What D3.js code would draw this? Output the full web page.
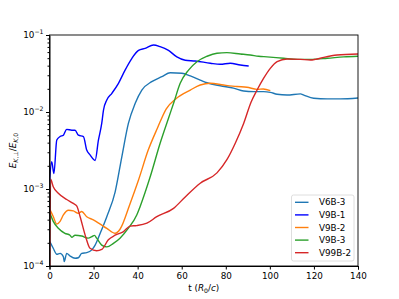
<!DOCTYPE html>
<html>
<head>
<meta charset="utf-8">
<script src="https://cdn.jsdelivr.net/npm/d3@7/dist/d3.min.js"></script>
<style>
body { margin: 0; background: #fff; }
text { font-family: "DejaVu Sans", sans-serif; }
</style>
</head>
<body>
<svg id="chart"></svg>
<script>
// series names and colours (matplotlib tab10 + pure blue)
var names = ['V6B-3', 'V9B-1', 'V9B-2', 'V9B-3', 'V99B-2'];
var colors = ['#1f77b4', '#0000ff', '#ff7f0e', '#2ca02c', '#d62728'];

var xTicks = [0, 20, 40, 60, 80, 100, 120, 140];
var yTicks = [1e-4, 1e-3, 1e-2, 1e-1];
var yTickExp = ['\u22124', '\u22123', '\u22122', '\u22121'];

// [t, value]
var v6b3 = [[0.2, 2.07e-4], [1.7, 1.7e-4], [3.3, 1.42e-4], [4.8, 1.46e-4], [6.3, 1.32e-4], [6.7, 1.14e-4],
    [7.8, 1.46e-4], [9.3, 1.35e-4], [11.6, 1.26e-4], [13.1, 1.28e-4], [14.6, 1.46e-4], [16.9, 1.49e-4],
    [19.2, 1.62e-4], [20.7, 1.87e-4], [23, 2.66e-4], [26, 4.37e-4], [29.8, 9.2e-4], [32.8, 2.6e-3],
    [35.8, 7.1e-3], [38.9, 1.3e-2], [41.9, 1.93e-2], [46.4, 2.48e-2], [51, 2.88e-2], [54.8, 3.24e-2],
    [60.1, 3.19e-2], [63.9, 2.94e-2], [68.4, 2.6e-2], [71.5, 2.4e-2], [77.5, 2.19e-2], [83.5, 2.04e-2],
    [88.1, 1.87e-2], [92.6, 1.84e-2], [97.2, 1.84e-2], [100.2, 1.8e-2], [103.3, 1.7e-2], [107.8, 1.66e-2],
    [113.9, 1.72e-2], [115.4, 1.66e-2], [119.9, 1.51e-2], [126, 1.48e-2], [132, 1.48e-2], [140, 1.52e-2]];

var v9b1 = [[0, 1.25e-3], [1, 2.26e-3], [2, 1.59e-3], [3.3, 4.33e-3], [4.8, 4.8e-3], [6.3, 5.0e-3],
    [7.8, 5.95e-3], [10.1, 5.8e-3], [11.6, 5.8e-3], [13.1, 5.0e-3], [15.4, 4.8e-3], [16.9, 3.2e-3],
    [18.4, 2.77e-3], [20.7, 2.35e-3], [22.2, 4.3e-3], [23.7, 7.1e-3], [24.5, 1.06e-2], [26, 1.43e-2],
    [28.3, 1.75e-2], [31.3, 2.36e-2], [34.3, 3.5e-2], [37.4, 4.98e-2], [40.4, 6.3e-2], [43.4, 6.7e-2],
    [47.2, 7.4e-2], [50.2, 7.05e-2], [54, 6.3e-2], [57.8, 5.2e-2], [61.6, 4.7e-2], [66.1, 4.6e-2],
    [73, 4.3e-2], [77.5, 4.17e-2], [82, 4.3e-2], [86.6, 4.07e-2], [90.4, 3.95e-2]];

var v9b2 = [[0.2, 5.4e-4], [1.7, 4.4e-4], [3.3, 3.5e-4], [4.8, 3.8e-4], [6.3, 4.6e-4], [8.6, 5.3e-4],
    [10.8, 5.2e-4], [13.1, 4.83e-4], [14.6, 5.1e-4], [16.9, 4.37e-4], [19.9, 3.97e-4], [23, 3.5e-4],
    [26, 3.08e-4], [29.8, 2.66e-4], [32, 3.0e-4], [36.6, 6.5e-4], [40.4, 1.31e-3], [44.8, 3.2e-3],
    [49, 6.2e-3], [53, 1.1e-2], [57.5, 1.5e-2], [63.9, 1.93e-2], [68.4, 2.24e-2], [73, 2.36e-2],
    [79, 2.24e-2], [85.1, 2.14e-2], [89.6, 2.1e-2], [94.2, 1.97e-2], [97, 1.99e-2], [100.2, 1.89e-2]];

var v9b3 = [[0.2, 4.83e-4], [1.7, 3.8e-4], [4, 3.1e-4], [7, 2.66e-4], [9.3, 2.51e-4], [10.1, 2.36e-4],
    [11.6, 2.51e-4], [14.6, 2.45e-4], [17.6, 2.3e-4], [19.2, 2.4e-4], [20.4, 2.5e-4], [21.4, 2.3e-4],
    [23.7, 1.87e-4], [26, 1.77e-4], [29, 1.97e-4], [32, 2.3e-4], [35.8, 3.1e-4], [39.6, 4.6e-4],
    [41.1, 5.9e-4], [45.7, 1.44e-3], [50.2, 3.93e-3], [54, 8.3e-3], [56.5, 1.35e-2], [59.3, 2.36e-2],
    [63.1, 3.5e-2], [66.9, 4.5e-2], [71.5, 5.3e-2], [76, 5.8e-2], [80.5, 5.9e-2], [86.6, 5.67e-2],
    [91.1, 5.5e-2], [94.9, 5.3e-2], [98.7, 5.2e-2], [106.3, 4.98e-2], [112.4, 4.83e-2], [118.4, 4.83e-2],
    [126, 4.98e-2], [133.5, 5.2e-2], [140, 5.3e-2]];

var v99b2 = [[0, 1e-5], [0.5, 1.34e-3], [1.7, 1.07e-3], [4, 8.8e-4], [7.8, 7.3e-4], [10.8, 6.5e-4],
    [12.4, 6.0e-4], [13.9, 4.37e-4], [16.4, 2.4e-4], [18.4, 1.7e-4], [21.4, 1.58e-4], [23.7, 1.64e-4],
    [26.7, 2.19e-4], [29.8, 2.51e-4], [33.6, 2.8e-4], [36.6, 3.3e-4], [39.6, 3.35e-4], [44.2, 3.6e-4],
    [48.7, 4.37e-4], [56.3, 5.6e-4], [61.6, 7.9e-4], [68.4, 1.19e-3], [76, 1.62e-3], [80.5, 2.4e-3],
    [84.3, 3.93e-3], [88.1, 7.1e-3], [91.5, 1.35e-2], [94.2, 1.93e-2], [97.2, 2.75e-2], [100.2, 3.69e-2],
    [103.3, 4.5e-2], [107.8, 4.88e-2], [113.9, 4.83e-2], [118.4, 4.73e-2], [120.7, 4.83e-2],
    [124.5, 5.13e-2], [130.5, 5.5e-2], [140, 5.67e-2]];

var series = [v6b3, v9b1, v9b2, v9b3, v99b2];

var width = 399,
    height = 299,
    margin = {top: 35, right: 41, bottom: 33, left: 49.5},
    fs = 8.8;

var svg = d3.select('#chart')
    .attr('width', width)
    .attr('height', height);

var x = d3.scaleLinear()
    .domain([0, 140])
    .range([margin.left, width - margin.right]);

var y = d3.scaleLog()
    .domain([1e-4, 1e-1])
    .range([height - margin.bottom, margin.top]);

svg.append('clipPath')
    .attr('id', 'clip')
    .append('rect')
    .attr('x', margin.left)
    .attr('y', margin.top)
    .attr('width', width - margin.left - margin.right)
    .attr('height', height - margin.top - margin.bottom);

var line = d3.line()
    .x(function (d) { return x(d[0]); })
    .y(function (d) { return y(d[1]); })
    .curve(d3.curveMonotoneX);

svg.append('g')
    .attr('clip-path', 'url(#clip)')
    .selectAll('path')
    .data(series)
    .enter()
    .append('path')
    .attr('d', line)
    .attr('fill', 'none')
    .attr('stroke', function (d, i) { return colors[i]; })
    .attr('stroke-width', 1.4);

// x axis
var xAxis = svg.append('g')
    .attr('transform', 'translate(0,' + (height - margin.bottom) + ')')
    .call(d3.axisBottom(x).tickValues(xTicks).tickSize(3.5).tickPadding(3));

xAxis.selectAll('text')
    .attr('font-size', fs)
    .attr('font-family', 'DejaVu Sans')
    .attr('fill', '#000');

// y axis minor ticks
var minor = [];
[1e-4, 1e-3, 1e-2].forEach(function (b) {
    for (var k = 2; k <= 9; k++) minor.push(b * k);
});

svg.append('g')
    .attr('transform', 'translate(' + margin.left + ',0)')
    .call(d3.axisLeft(y).tickValues(minor).tickSize(2).tickFormat(''))
    .call(function (g) { g.select('.domain').remove(); });

var yAxis = svg.append('g')
    .attr('transform', 'translate(' + margin.left + ',0)')
    .call(d3.axisLeft(y).tickValues(yTicks).tickSize(3.5).tickFormat(''));

yTicks.forEach(function (t, i) {
    var lbl = svg.append('text')
        .attr('x', margin.left - 6)
        .attr('y', y(t) + 3.2)
        .attr('text-anchor', 'end')
        .attr('font-size', fs);
    lbl.append('tspan').text('10');
    lbl.append('tspan')
        .attr('font-size', fs * 0.7)
        .attr('dy', -3.8)
        .text(yTickExp[i]);
});

// frame
svg.append('rect')
    .attr('x', margin.left)
    .attr('y', margin.top)
    .attr('width', width - margin.left - margin.right)
    .attr('height', height - margin.top - margin.bottom)
    .attr('fill', 'none')
    .attr('stroke', '#000')
    .attr('stroke-width', 0.9);

// x label
var xl = svg.append('text')
    .attr('x', (margin.left + width - margin.right) / 2)
    .attr('y', height - 8)
    .attr('text-anchor', 'middle')
    .attr('font-size', fs);
xl.append('tspan').text('t (');
xl.append('tspan').attr('font-style', 'italic').text('R');
xl.append('tspan').attr('font-size', fs * 0.7).attr('dy', 2).text('0');
xl.append('tspan').attr('dy', -2).text('/');
xl.append('tspan').attr('font-style', 'italic').text('c');
xl.append('tspan').text(')');

// y label
var yl = svg.append('text')
    .attr('transform', 'translate(16,' + ((margin.top + height - margin.bottom) / 2) + ') rotate(-90)')
    .attr('text-anchor', 'middle')
    .attr('font-size', fs);
yl.append('tspan').attr('font-style', 'italic').text('E');
yl.append('tspan').attr('font-size', fs * 0.7).attr('dy', 2).attr('font-style', 'italic').text('K');
yl.append('tspan').attr('font-size', fs * 0.7).text(',\u22a5');
yl.append('tspan').attr('dy', -2).text('/');
yl.append('tspan').attr('font-style', 'italic').text('E');
yl.append('tspan').attr('font-size', fs * 0.7).attr('dy', 2).attr('font-style', 'italic').text('K');
yl.append('tspan').attr('font-size', fs * 0.7).text(',0');

// legend
var lg = svg.append('g')
    .attr('transform', 'translate(291.5,195)');

lg.append('rect')
    .attr('width', 62.5)
    .attr('height', 66)
    .attr('rx', 2)
    .attr('fill', '#fff')
    .attr('fill-opacity', 0.8)
    .attr('stroke', '#d6d6d6')
    .attr('stroke-width', 0.8);

var item = lg.selectAll('g.item')
    .data(names)
    .enter()
    .append('g')
    .attr('class', 'item')
    .attr('transform', function (d, i) { return 'translate(0,' + (7.3 + i * 12.6) + ')'; });

item.append('line')
    .attr('x1', 3.5)
    .attr('x2', 17)
    .attr('stroke', function (d, i) { return colors[i]; })
    .attr('stroke-width', 1.4);

item.append('text')
    .attr('x', 27.5)
    .attr('y', 3.1)
    .attr('font-size', fs)
    .text(function (d) { return d; });
</script>
</body>
</html>
